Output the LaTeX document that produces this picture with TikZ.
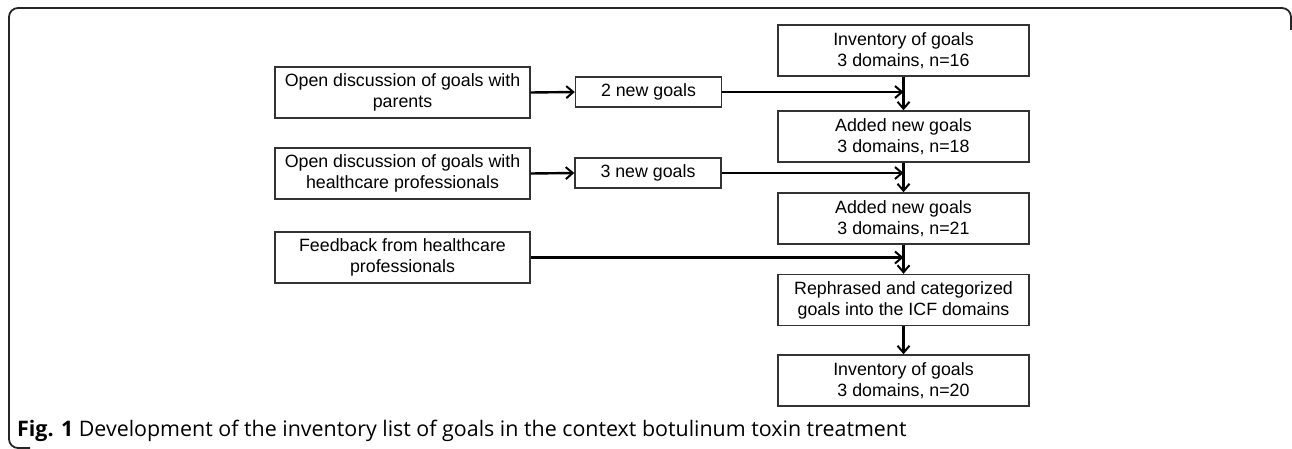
\documentclass[tikz,border=0pt]{standalone}
\usepackage{fontspec}
\setmainfont{Liberation Sans}
\newfontfamily\capfont{Open Sans}
\usetikzlibrary{arrows.meta}
\begin{document}
\begin{tikzpicture}[x=1pt,y=-1pt,
  box/.style={draw=black!80,line width=1.4pt,fill=white,inner sep=0pt,align=center,
    font=\fontsize{17.8}{21}\selectfont},
  lbox/.style={box,minimum width=255pt,minimum height=51pt},
  mbox/.style={box,minimum width=146pt,minimum height=30pt},
  rbox/.style={box,minimum width=251pt,minimum height=51pt},
  conn/.style={line width=2.4pt,-{Straight Barb[length=7pt,width=12pt,line width=2pt]}}]
\useasboundingbox (0,0) rectangle (1292,449);
\draw[line width=1.8pt,black!85,rounded corners=9pt] (30,448) -- (9,448) -- (9,8) -- (1291,8) -- (1291,30);
% left boxes
\node[lbox] (p1) at (402.5,92.5) {Open discussion of goals with\\parents};
\node[lbox] (p2) at (402.5,173.5) {Open discussion of goals with\\healthcare professionals};
\node[lbox] (p3) at (402.5,257.5) {Feedback from healthcare\\professionals};
% middle boxes
\node[mbox] (g1) at (648.5,92) {2 new goals};
\node[mbox] (g2) at (648,173) {3 new goals};
% right boxes
\node[rbox] (r1) at (903.5,50.5) {Inventory of goals\\3 domains, n=16};
\node[rbox] (r2) at (903.5,136.5) {Added new goals\\3 domains, n=18};
\node[rbox] (r3) at (903.5,218.5) {Added new goals\\3 domains, n=21};
\node[rbox] (r4) at (903.5,300) {Rephrased and categorized\\goals into the ICF domains};
\node[rbox] (r5) at (903.5,380.5) {Inventory of goals\\3 domains, n=20};
% junction coordinates
\coordinate (j1) at (r1.south |- g1.east);
\coordinate (j2) at (r2.south |- g2.east);
\coordinate (j3) at (r3.south |- p3.east);
% connectors
\draw[conn] (p1.east) -- (g1.west);
\draw[conn] (p2.east) -- (g2.west);
\draw[conn] (g1.east) -- (j1);
\draw[conn] (g2.east) -- (j2);
\draw[conn] (p3.east) -- (j3);
\draw[conn] (r1.south) -- (r2.north);
\draw[conn] (r2.south) -- (r3.north);
\draw[conn] (r3.south) -- (r4.north);
\draw[conn] (r4.south) -- (r5.north);
% caption
\node[anchor=base west,inner sep=0pt,font=\capfont\fontsize{21.4}{25}\selectfont] (cap) at (17,436)
  {\textbf{Fig. 1} Development of the inventory list of goals in the context botulinum toxin treatment};
\end{tikzpicture}
\end{document}
